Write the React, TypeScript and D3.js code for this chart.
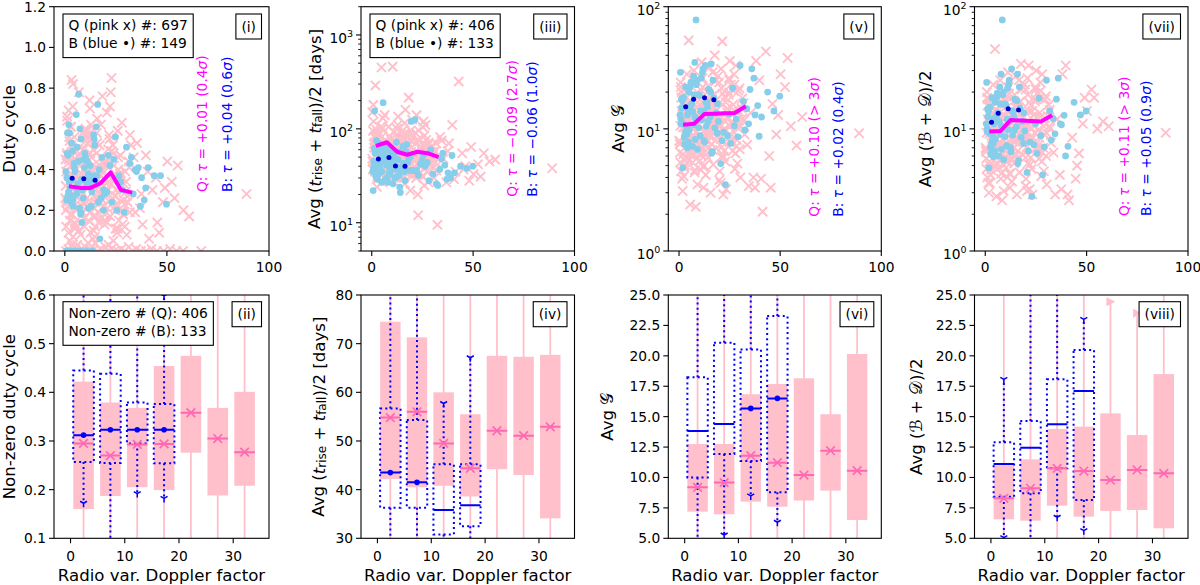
import React from "react";
import * as d3 from "d3";

const FONT = "'DejaVu Sans', sans-serif";
const PINK = "#ffc0cb";
const HOTPINK = "#ff69b4";
const SKYBLUE = "#87ceeb";
const MAGENTA = "#ff00ff";
const BLUE = "#0000ff";
const TICK_FS = 13.8;
const LABEL_FS = 16.6;

// panel geometry
const COL_LEFT = [54, 361, 668.3, 974.5];
const COL_WIDTH = [215, 213.5, 213, 213.5];
const TOP_ROW: [number, number] = [6.7, 251];
const BOTTOM_ROW: [number, number] = [295, 538.3];
const SCATTER_X: [number, number] = [-5.3, 100];
const BOX_X: [number, number] = [-3.05, 36.6];

// ---- per-source data: radio variability Doppler factor ----
const qDoppler = [
  0.4, 1.2, 2.7, 0.9, 3.3, 1.8, 4.6, 2.1, 5.2, 0.6, 3.9, 6.4, 1.5, 7.1, 2.5, 5.8, 8.3, 3.1, 9.4, 4.2,
  6.9, 0.8, 7.7, 2.9, 8.8, 5.5, 1.1, 9.9, 4.8, 6.1, 3.6, 7.4, 2.3, 8.1, 0.3, 5.0, 9.1, 1.9, 6.6, 4.0,
  10.3, 11.6, 12.8, 10.9, 13.5, 14.7, 11.2, 15.3, 12.1, 16.4, 13.0, 17.6, 10.6, 14.1, 18.2, 11.9, 15.8, 19.4, 12.5, 16.9,
  13.8, 17.1, 19.9, 14.4, 10.1, 18.7, 15.1, 12.3, 16.2, 11.4, 19.0, 13.2, 17.9, 14.9, 10.8, 18.4, 16.6, 12.9, 15.6, 19.6,
  20.4, 21.7, 22.9, 20.8, 24.1, 23.3, 25.6, 21.2, 26.8, 22.5, 24.7, 27.9, 20.1, 23.8, 25.1, 28.6, 21.9, 26.2, 29.4, 22.1,
  24.4, 27.2, 30.3, 23.1, 25.9, 28.1, 31.5, 20.6, 26.5, 29.9, 32.4, 21.4, 27.6, 30.8, 33.7, 24.9, 28.9, 31.9, 34.5, 22.7,
  35.4, 36.8, 38.1, 39.7, 41.3, 42.9, 44.6, 46.2, 48.1, 50.2, 52.4, 55.3, 58.1, 60.9, 37.5, 40.6, 45.3, 49.0, 53.7, 89.0,
  0.2, 1.6, 2.4, 3.0, 4.4, 5.6, 6.3, 7.9, 8.6, 9.7, 0.7, 1.3, 2.8, 3.7, 4.9, 5.3, 6.8, 7.2, 8.4, 9.3,
  10.4, 11.1, 12.2, 13.6, 14.3, 15.5, 16.8, 17.3, 18.6, 19.2, 10.9, 11.7, 12.6, 13.3, 14.6, 15.9, 16.1, 17.8, 18.1, 19.8,
  0.5, 2.0, 3.5, 5.1, 6.7, 8.0, 9.5, 11.4, 12.9, 14.0, 15.2, 16.5, 17.7, 19.1, 1.0, 4.1, 7.4, 10.6, 13.9, 18.8,
  20.3, 21.5, 22.3, 23.6, 24.5, 25.3, 26.1, 27.4, 28.3, 29.6, 30.4, 31.3, 20.9, 22.8, 24.0, 25.8, 27.0, 28.8, 30.0, 31.8,
  1.9, 3.9, 6.0, 8.8, 11.0, 13.1, 15.0, 17.0, 19.4, 21.0, 23.0, 25.0, 27.2, 29.2, 4.7, 9.1, 14.8, 20.0, 24.8, 26.7,
];
const bDoppler = [
  1.0, 2.3, 3.1, 0.7, 4.5, 1.8, 5.6, 2.8, 6.3, 3.7,
  7.2, 0.5, 8.0, 4.9, 1.4, 9.1, 5.9, 2.0, 7.8, 3.4,
  6.8, 9.6, 4.1, 8.6, 1.2, 11.4, 13.0, 10.5, 14.6, 12.2,
  16.1, 11.0, 17.7, 13.8, 15.4, 18.9, 10.2, 12.7, 16.8, 14.1,
  19.5, 15.9, 21.3, 23.0, 24.8, 22.1, 26.5, 28.3, 25.5, 30.2,
  31.8, 27.4, 33.5, 36.0, 29.1, 35.1, 37.6, 38.9, 34.4, 39.6,
  43.8, 46.9, 49.8, 32.6, 20.6, 37.0, 40.8, 17.2, 8.4, 7.5,
  0.9, 1.6, 2.6, 3.3, 4.2, 5.0, 5.8, 6.6, 7.4, 8.2,
  9.0, 9.8, 10.7, 11.6, 12.4, 13.3, 14.4, 15.7, 16.4, 18.2,
  2.1, 3.9, 6.0, 7.9, 4.7, 1.3, 11.8, 13.5, 19.0, 24.0,
];

// duty cycle
const qDuty = [
  0.32, 0.64, 0.18, 0.47, 0.84, 0.09, 0.39, 0.56, 0.27, 0.12, 0.71, 0.35, 0.22, 0.51, 0.05, 0.44, 0.29, 0.61, 0.16, 0.37,
  0.78, 0.25, 0.08, 0.42, 0.58, 0.2, 0.66, 0.33, 0.14, 0.49, 0.03, 0.28, 0.54, 0.38, 0.45, 0.11, 0.24, 0.69, 0.31, 0.82,
  0.41, 0.15, 0.62, 0.26, 0.36, 0.07, 0.53, 0.3, 0.74, 0.19, 0.46, 0.34, 0.57, 0.1, 0.4, 0.23, 0.65, 0.13, 0.48, 0.28,
  0.06, 0.52, 0.35, 0.21, 0.6, 0.43, 0.17, 0.7, 0.32, 0.04, 0.27, 0.55, 0.39, 0.12, 0.46, 0.76, 0.24, 0.37, 0.58, 0.18,
  0.33, 0.57, 0.85, 0.14, 0.42, 0.26, 0.09, 0.5, 0.36, 0.78, 0.22, 0.63, 0.44, 0.05, 0.3, 0.18, 0.55, 0.4, 0.12, 0.71,
  0.27, 0.47, 0.08, 0.35, 0.59, 0.2, 0.41, 0.68, 0.15, 0.29, 0.52, 0.03, 0.38, 0.24, 0.46, 0.11, 0.33, 0.57, 0.19, 0.49,
  0.53, 0.21, 0.13, 0.47, 0.06, 0.3, 0.36, 0.09, 0.24, 0.44, 0.34, 0.42, 0.2, 0.17, 0.28, 0.39, 0.14, 0.31, 0.26, 0.28,
  0.26, 0.43, 0.15, 0.52, 0.34, 0.21, 0.47, 0.3, 0.58, 0.12, 0.39, 0.24, 0.61, 0.18, 0.29, 0.45, 0.1, 0.36, 0.22, 0.5,
  0.33, 0.55, 0.19, 0.42, 0.27, 0.48, 0.14, 0.37, 0.25, 0.44, 0.59, 0.31, 0.09, 0.4, 0.21, 0.53, 0.35, 0.16, 0.46, 0.28,
  0.2, 0.37, 0.51, 0.13, 0.3, 0.44, 0.23, 0.57, 0.34, 0.17, 0.41, 0.26, 0.62, 0.32, 0.48, 0.07, 0.25, 0.38, 0.5, 0.22,
  0.29, 0.41, 0.17, 0.52, 0.35, 0.23, 0.46, 0.31, 0.13, 0.39, 0.27, 0.44, 0.21, 0.33, 0.48, 0.11, 0.38, 0.25, 0.34, 0.19,
  0.45, 0.28, 0.36, 0.19, 0.53, 0.32, 0.24, 0.42, 0.15, 0.3, 0.49, 0.27, 0.37, 0.23, 0.56, 0.4, 0.31, 0.43, 0.2, 0.35,
];
const qZeroDoppler = [
  0.6, 1.7, 2.6, 3.4, 4.5, 5.3, 6.1, 7.0, 8.2, 9.0,
  10.1, 11.3, 12.6, 13.5, 14.8, 16.0, 17.4, 18.5, 19.9, 21.3,
  22.8, 24.3, 26.0, 27.7, 29.4, 31.3, 33.1, 35.0, 37.2, 39.8,
  42.5, 45.1, 48.4, 51.6, 54.7, 57.9, 66.8,
];
const qZeroDuty = [
  0.0, 0.01, 0.0, 0.02, 0.0, 0.01, 0.03, 0.0, 0.01, 0.0,
  0.02, 0.0, 0.01, 0.0, 0.04, 0.0, 0.01, 0.0, 0.02, 0.0,
  0.01, 0.0, 0.0, 0.01, 0.0, 0.02, 0.0, 0.01, 0.0, 0.0,
  0.01, 0.0, 0.0, 0.01, 0.0, 0.0, 0.0,
];
const bDuty = [
  0.36, 0.58, 0.24, 0.0, 0.43, 0.29, 0.67, 0.0, 0.33, 0.49,
  0.21, 0.39, 0.55, 0.0, 0.27, 0.45, 0.31, 0.62, 0.18, 0.35,
  0.77, 0.41, 0.25, 0.3, 0.48, 0.38, 0.22, 0.0, 0.52, 0.34,
  0.72, 0.44, 0.26, 0.37, 0.61, 0.2, 0.46, 0.31, 0.4, 0.57,
  0.28, 0.33, 0.47, 0.24, 0.56, 0.42, 0.37, 0.3, 0.2, 0.51,
  0.43, 0.34, 0.28, 0.41, 0.19, 0.39, 0.36, 0.25, 0.4, 0.31,
  0.37, 0.37, 0.23, 0.46, 0.29, 0.22, 0.41, 0.06, 0.14, 0.0,
  0.25, 0.47, 0.31, 0.53, 0.22, 0.39, 0.28, 0.44, 0.6, 0.35,
  0.26, 0.48, 0.33, 0.21, 0.42, 0.29, 0.55, 0.37, 0.24, 0.46,
  0.34, 0.27, 0.51, 0.19, 0.41, 0.58, 0.36, 0.0, 0.3, 0.45,
];

// average (t_rise + t_fall)/2 in days
const qTime = [
  45, 82, 31, 120, 58, 290, 38, 66, 27, 95, 50, 140, 35, 72, 24, 60, 105, 42, 77, 33,
  55, 180, 28, 88, 47, 130, 63, 36, 450, 52, 70, 29, 98, 41, 150, 57, 34, 85, 65, 44,
  460, 39, 110, 54, 75, 30, 92, 48, 62, 26, 135, 43, 68, 37, 215, 56, 81, 32, 100, 49,
  71, 40, 125, 53, 28, 87, 60, 35, 115, 46, 22, 79, 58, 94, 38, 67, 160, 44, 52, 74,
  48, 90, 12, 36, 64, 55, 120, 33, 76, 43, 58, 27, 85, 40, 105, 50, 30, 69, 45, 140,
  62, 35, 53, 96, 25, 71, 44, 38, 110, 57, 9.5, 47, 66, 30, 82, 41, 54, 36, 75, 20,
  48, 27, 70, 110, 35, 320, 55, 40, 28, 33, 42, 55, 45, 47, 58, 29, 37, 64, 31, 38,
  48, 72, 35, 92, 57, 40, 68, 31, 84, 52, 44, 63, 29, 77, 38, 101, 55, 46, 70, 34,
  61, 42, 88, 50, 33, 74, 45, 58, 36, 96, 53, 39, 66, 47, 81, 30, 59, 43, 71, 51,
  37, 64, 49, 83, 41, 56, 32, 75, 45, 62, 38, 90, 52, 44, 69, 35, 57, 48, 79, 40,
  54, 36, 72, 45, 60, 31, 85, 49, 41, 66, 38, 58, 46, 77, 34, 53, 62, 43, 50, 70,
  42, 87, 51, 36, 64, 46, 73, 39, 57, 48, 33, 68, 44, 55, 106, 40, 61, 35, 52, 47,
];
const bTime = [
  45, 75, 33, 22, 58, 38, 190, 29, 52, 41,
  66, 35, 48, 27, 155, 37, 60, 31, 43, 70,
  28, 55, 40, 34, 62, 30, 47, 26, 39, 72,
  35, 50, 44, 24, 65, 36, 42, 31, 57, 21,
  120, 38, 125, 32, 46, 36, 40, 28, 52, 33,
  26, 44, 37, 41, 60, 55, 34, 30, 48, 52,
  40, 38, 40, 25, 36, 29, 34, 68, 46, 30,
  38, 55, 31, 44, 68, 35, 49, 29, 41, 60,
  33, 46, 52, 30, 39, 57, 36, 43, 28, 48,
  62, 34, 45, 27, 51, 40, 37, 32, 50, 42,
];

// average G
const qG = [
  7.5, 14, 4.8, 22, 9.6, 3.1, 11.5, 6.2, 17, 5.3, 28, 8.4, 3.9, 12.8, 19, 6.8, 2.3, 10.2, 15, 5.8,
  8.9, 24, 4.4, 13.4, 7.2, 2.4, 18, 10.8, 53, 6.0, 9.3, 30, 4.1, 11.9, 7.9, 16, 3.5, 21, 8.2, 12.3,
  5.5, 26, 9.8, 4.6, 14.5, 7.0, 35, 11.2, 3.3, 17.5, 8.6, 40, 6.4, 20, 10.0, 4.9, 13.0, 27, 7.6, 5.1,
  15.5, 9.1, 3.8, 22.5, 6.7, 12.0, 32, 5.0, 18.5, 8.0, 11.0, 4.2, 24.5, 9.9, 6.1, 14.2, 29, 7.3, 3.0, 10.5,
  8.3, 19.5, 5.4, 31, 12.5, 3.2, 23, 7.1, 15.8, 9.4, 26, 6.3, 4.5, 13.6, 36, 8.1, 2.9, 11.4, 20.5, 5.9,
  10.8, 28, 4.0, 16.5, 7.8, 33, 12.2, 3.6, 6.6, 21.5, 9.0, 52, 4.7, 14.8, 7.4, 25, 5.2, 11.7, 3.4, 18,
  13.5, 4.0, 36, 25, 2.1, 43, 6.0, 16, 9.0, 28, 22, 10.5, 7.3, 12.5, 3.3, 3.9, 3.3, 13, 38, 9.2,
  8.0, 13.0, 5.6, 17.5, 9.8, 6.5, 12.2, 4.6, 15.0, 7.4, 10.6, 20.0, 5.0, 11.3, 7.0, 14.0, 8.7, 6.0, 9.4, 18.0,
  12.7, 7.7, 16.0, 9.0, 5.8, 13.8, 10.1, 19.0, 6.9, 11.6, 8.4, 22.0, 14.8, 6.2, 10.9, 17.0, 7.5, 12.9, 9.7, 24.0,
  6.4, 10.3, 15.5, 8.2, 5.3, 11.8, 19.5, 7.1, 13.6, 9.2, 16.8, 6.7, 12.0, 8.9, 4.5, 14.5, 10.0, 21.0, 7.9, 11.1,
  9.5, 15.8, 6.6, 12.4, 19.0, 8.6, 11.0, 23.0, 7.2, 13.9, 10.4, 17.8, 5.9, 9.9, 14.7, 8.1, 20.5, 11.9, 6.8, 16.2,
  13.3, 7.3, 10.7, 18.5, 6.1, 12.6, 9.1, 15.3, 8.5, 21.5, 11.5, 7.8, 14.2, 10.2, 5.5, 16.5, 8.8, 12.1, 19.8, 9.6,
];
const bG = [
  12, 18, 9.0, 29, 14.5, 4.8, 22, 7.5, 16, 10.5,
  27, 13, 8.2, 20, 15, 6.8, 24, 11, 35, 9.5,
  13.8, 19, 7.0, 23, 17.5, 11.8, 33, 8.8, 21, 14,
  6.3, 26, 10.2, 16.5, 12.5, 9.2, 18.8, 7.8, 25, 15.2,
  11.5, 34, 8.0, 3.5, 13.2, 9.4, 21.5, 12.0, 7.6, 33,
  16.8, 10.6, 14.6, 31, 8.6, 21, 13, 15.5, 11, 8.7,
  20, 14, 18.5, 9.8, 5.2, 26, 12.5, 17.8, 78, 10.8,
  11, 17, 8.5, 22, 13, 9.8, 15.5, 7.2, 19, 12,
  25, 10.2, 14, 29, 8.0, 16.5, 11.5, 20, 6.5, 13.5,
  18, 9.0, 24, 12.5, 7.8, 14.8, 31, 10.5, 16, 8.8,
];

// average (B + D)/2
const qBD = [
  6.5, 12, 4.2, 18, 8.3, 3.0, 10.5, 5.4, 14.5, 4.7, 23, 7.2, 3.6, 11, 16, 5.9, 2.6, 8.8, 13, 5.0,
  7.7, 20, 3.9, 11.5, 6.2, 2.8, 15.5, 9.3, 45, 5.2, 8.0, 25, 3.6, 10.2, 6.8, 13.8, 3.1, 17.5, 7.0, 10.6,
  4.8, 22, 8.4, 4.0, 12.5, 6.0, 29, 9.6, 3.3, 15, 7.4, 34, 5.5, 17, 8.6, 4.3, 11.2, 23, 6.5, 4.4,
  13.3, 7.8, 3.4, 19, 5.8, 10.3, 27, 4.3, 16, 6.9, 9.5, 3.7, 21, 8.5, 5.3, 12.2, 25, 6.3, 2.9, 9.0,
  7.1, 16.5, 4.7, 26, 10.7, 2.9, 19.5, 6.1, 13.5, 8.1, 22, 5.4, 3.9, 11.7, 30, 7.0, 3.2, 9.8, 17.5, 5.1,
  9.3, 24, 3.5, 14, 6.7, 28, 10.5, 3.1, 5.7, 18.5, 7.7, 33, 4.1, 12.7, 6.4, 21, 4.5, 10.1, 2.9, 15.5,
  12, 4.2, 28, 33, 2.6, 8.5, 3.9, 6.3, 11, 14, 21, 10, 11.5, 10.5, 3.2, 2.9, 5.0, 18, 18, 9.3,
  7.0, 11.5, 5.0, 15.0, 8.5, 5.9, 10.6, 4.3, 13.0, 6.6, 9.3, 17.5, 4.6, 9.9, 6.3, 12.3, 7.7, 5.4, 8.3, 15.8,
  11.2, 6.9, 14.0, 8.0, 5.2, 12.1, 8.9, 16.8, 6.1, 10.2, 7.4, 19.5, 13.0, 5.6, 9.6, 15.0, 6.6, 11.3, 8.6, 21.0,
  5.7, 9.1, 13.6, 7.2, 4.8, 10.4, 17.0, 6.3, 12.0, 8.1, 14.8, 5.9, 10.6, 7.9, 4.0, 12.8, 8.8, 18.5, 7.0, 9.8,
  8.4, 13.9, 5.8, 10.9, 16.8, 7.6, 9.7, 20.5, 6.4, 12.2, 9.2, 15.7, 5.2, 8.7, 13.0, 7.2, 18.0, 10.5, 6.0, 14.3,
  11.7, 6.4, 9.4, 16.3, 5.4, 11.1, 8.0, 13.5, 7.5, 19.0, 10.1, 6.9, 12.5, 9.0, 4.9, 14.6, 7.8, 10.7, 17.5, 8.5,
];
const bBD = [
  10, 15, 7.5, 24, 12.2, 4.8, 18, 6.2, 13.5, 8.8,
  22, 11, 6.8, 16.5, 12.5, 5.6, 19.5, 9.2, 28, 7.9,
  11.5, 16, 5.9, 19, 14.5, 9.8, 31, 7.3, 17.5, 11.7,
  5.2, 21.5, 8.5, 13.8, 10.4, 7.6, 15.6, 6.5, 22, 12.6,
  9.6, 28, 6.6, 2.8, 11, 7.8, 17.8, 4.2, 6.3, 25,
  14, 8.8, 12.1, 26, 7.1, 17.5, 10.8, 12.9, 9.1, 6.0,
  16.5, 13, 14, 8.1, 4.4, 11, 7.2, 14.8, 78, 9.0,
  9.5, 14, 7.0, 18, 11, 8.2, 13, 6.0, 16, 10,
  20, 8.6, 12, 23, 7.0, 14, 9.8, 17, 5.5, 11.5,
  15, 7.6, 19.5, 10.6, 6.6, 12.6, 25, 8.9, 13.5, 7.4,
];

// running medians of the Q sample and binned B means
const trendDoppler = [2, 7.5, 12.5, 17.5, 22.5, 27.5, 33];
const qDutyTrend = [0.318, 0.31, 0.31, 0.333, 0.386, 0.3, 0.287];
const qTimeTrend = [66, 72, 57, 53, 57, 55, 50];
const qGTrend = [10.8, 11, 13.2, 13.3, 13.4, 13.5, 15.3];
const qBDTrend = [9.5, 9.6, 11.8, 11.7, 11.6, 11.5, 12.9];

const bDutyMeanX = [3.6, 9.3, 14.8];
const bDutyMean = [0.357, 0.355, 0.347];
const bTimeMeanX = [3.3, 8.5, 11.7, 16.4];
const bTimeMean = [47.6, 49.5, 40.3, 40];
const bGMeanX = [3.3, 7.2, 12.6, 17.2];
const bGMean = [15.2, 17.5, 18, 17.3];
const bBDMeanX = [3.1, 6.4, 11.3, 16.4];
const bBDMean = [11.3, 13.4, 14.6, 14.3];

// ---- binned box statistics ----
const binPositions = [2.4, 7.35, 12.3, 17.25, 22.2, 27.15, 32.1];

const dutyPinkQ1 = [0.16, 0.187, 0.205, 0.199, 0.276, 0.188, 0.208];
const dutyPinkMed = [0.295, 0.27, 0.293, 0.294, 0.358, 0.305, 0.277];
const dutyPinkQ3 = [0.422, 0.379, 0.368, 0.454, 0.475, 0.368, 0.401];
const dutyPinkLo = [0.03, 0.04, 0.05, 0.03, 0.06, 0.04, 0.07];
const dutyPinkHi = [0.84, 0.75, 0.72, 0.85, 0.8, 0.66, 0.62];
const dutyBlueQ1 = [0.257, 0.255, 0.295, 0.254];
const dutyBlueMed = [0.312, 0.323, 0.323, 0.323];
const dutyBlueQ3 = [0.445, 0.438, 0.379, 0.376];
const dutyBlueLo = [0.172, 0.05, 0.192, 0.182];
const dutyBlueHi = [0.72, 0.77, 0.66, 0.598];
const dutyBlueMean = [0.312, 0.323, 0.323, 0.323];

const timePinkQ1 = [42.2, 40.5, 40.8, 38.6, 44.2, 43.0, 34.1];
const timePinkMed = [54.8, 56.0, 49.5, 44.4, 52.1, 51.1, 52.9];
const timePinkQ3 = [74.5, 71.3, 60.0, 55.5, 67.5, 67.3, 67.7];
const timePinkLo = [22, 21, 24, 20, 25, 23, 18];
const timePinkHi = [125, 118, 95, 88, 105, 110, 120];
const timeBlueQ1 = [36.3, 36.3, 30.8, 32.5];
const timeBlueMed = [43.5, 41.5, 35.8, 36.8];
const timeBlueQ3 = [56.7, 54.3, 45.2, 45.2];
const timeBlueLo = [24, 22, 25, 23];
const timeBlueHi = [105, 98, 57.7, 67.1];
const timeBlueMean = [43.5, 41.5, null, null];

const gPinkQ1 = [7.19, 6.97, 8.01, 7.6, 8.1, 8.92, 6.5];
const gPinkMed = [9.19, 9.58, 11.79, 11.22, 10.2, 12.2, 10.56];
const gPinkQ3 = [12.75, 12.75, 16.84, 17.68, 18.15, 15.2, 20.15];
const gPinkLo = [3, 3, 3.5, 3.2, 3.8, 4.5, 3.0];
const gPinkHi = [30, 31, 35, 33, 32, 28, 40];
const gBlueQ1 = [10.0, 11.93, 11.36, 8.78];
const gBlueMed = [13.82, 14.4, 15.68, 16.5];
const gBlueQ3 = [18.23, 21.08, 20.53, 23.27];
const gBlueLo = [4.0, 5.27, 8.48, 6.32];
const gBlueHi = [30, 34, 33, 36];
const gBlueMean = [null, null, 15.68, 16.5];

const bdPinkQ1 = [6.56, 6.45, 7.68, 6.78, 7.25, 7.33, 5.82];
const bdPinkMed = [8.29, 9.11, 10.75, 10.53, 9.79, 10.62, 10.34];
const bdPinkQ3 = [11.0, 11.49, 13.99, 14.18, 15.27, 13.49, 18.5];
const bdPinkLo = [3.0, 2.8, 3.5, 3.0, 3.6, 3.7, 2.5];
const bdPinkHi = [28, 27, 30, 29, 24.45, 23.5, 36];
const bdBlueQ1 = [8.42, 8.7, 10.75, 8.15];
const bdBlueMed = [11.11, 12.45, 14.37, 17.1];
const bdBlueQ3 = [12.89, 14.64, 18.07, 20.48];
const bdBlueLo = [5.05, 4.0, 6.73, 5.63];
const bdBlueHi = [18.07, 30, 32, 23.0];
const bdBlueMean = [null, null, null, null];

// ---- helpers ----
const measureCtx =
  typeof document !== "undefined"
    ? document.createElement("canvas").getContext("2d")
    : null;

function textWidth(s: string, size: number) {
  if (!measureCtx) return s.length * size * 0.6;
  measureCtx.font = `${size}px "DejaVu Sans"`;
  return measureCtx.measureText(s).width;
}

function mathText(s: string) {
  return s.split(/([τσ])/).map((t, i) =>
    t === "τ" || t === "σ" ? (
      <tspan key={i} fontStyle="italic">
        {t}
      </tspan>
    ) : (
      <React.Fragment key={i}>{t}</React.Fragment>
    )
  );
}

const isPow10 = (v: number) => Math.abs(Math.log10(v) - Math.round(Math.log10(v))) < 1e-9;

function logLabel(v: number) {
  return (
    <>
      10
      <tspan dy={-5} fontSize={9.5}>
        {Math.round(Math.log10(v))}
      </tspan>
    </>
  );
}

const timeLabel = (
  <>
    Avg (<tspan fontStyle="italic">t</tspan>
    <tspan dy={3.5} fontSize={12}>
      rise
    </tspan>
    <tspan dy={-3.5}> + </tspan>
    <tspan fontStyle="italic">t</tspan>
    <tspan dy={3.5} fontSize={12}>
      fall
    </tspan>
    <tspan dy={-3.5}>)/2 [days]</tspan>
  </>
);
const gLabel = <>Avg 𝒢</>;
const bdLabel = <>Avg (ℬ + 𝒟)/2</>;

function TagBox({ right, top, text }: { right: number; top: number; text: string }) {
  const w = textWidth(text, TICK_FS) + 11;
  return (
    <g>
      <rect x={right - w} y={top} width={w} height={25} fill="white" stroke="black" strokeWidth={1.1} />
      <text x={right - w / 2} y={top + 12.5} textAnchor="middle" dominantBaseline="central" fontSize={TICK_FS}>
        {text}
      </text>
    </g>
  );
}

function LegendBox({ left, top, lines }: { left: number; top: number; lines: string[] }) {
  const w = d3.max(lines, (l) => textWidth(l, TICK_FS))! + 11;
  return (
    <g>
      <rect x={left} y={top} width={w} height={lines.length * 18.3 + 7} fill="white" stroke="black" strokeWidth={1.1} />
      {lines.map((l, i) => (
        <text key={i} x={left + 5.5} y={top + 11 + i * 18.3} dominantBaseline="central" fontSize={TICK_FS}>
          {l}
        </text>
      ))}
    </g>
  );
}

function YLabel({ x, y, children }: { x: number; y: number; children: React.ReactNode }) {
  return (
    <text transform={`translate(${x},${y}) rotate(-90)`} textAnchor="middle" dominantBaseline="central" fontSize={LABEL_FS}>
      {children}
    </text>
  );
}

type ScatterProps = {
  id: string;
  col: number;
  log: boolean;
  yDomain: [number, number];
  yTicks: number[];
  qx: number[];
  qy: number[];
  bx: number[];
  by: number[];
  trend: number[];
  meanX: number[];
  meanY: number[];
  legend?: string[];
  tag: string;
  tauQ: string;
  tauB: string;
  tauCols: [number, number];
  tauBottom: number;
  yLabel: React.ReactNode;
  yLabelX: number;
};

function ScatterPanel(p: ScatterProps) {
  const left = COL_LEFT[p.col];
  const right = left + COL_WIDTH[p.col];
  const [top, bottom] = TOP_ROW;
  const x = d3.scaleLinear().domain(SCATTER_X).range([left, right]);
  const y = p.log
    ? d3.scaleLog().domain(p.yDomain).range([bottom, top])
    : d3.scaleLinear().domain(p.yDomain).range([bottom, top]);
  const minor = p.log ? (y as d3.ScaleLogarithmic<number, number>).ticks().filter((v) => !isPow10(v)) : [];
  const line = d3
    .line<number>()
    .x((_, i) => x(trendDoppler[i]))
    .y((d) => y(d));
  const clip = `clip-${p.id}`;
  const s = 4.6;
  return (
    <g>
      <clipPath id={clip}>
        <rect x={left} y={top} width={right - left} height={bottom - top} />
      </clipPath>
      <g clipPath={`url(#${clip})`}>
        {p.qx.map((d, i) => {
          const cx = x(d);
          const cy = y(p.qy[i]);
          return (
            <path
              key={i}
              d={`M${cx - s},${cy - s}L${cx + s},${cy + s}M${cx - s},${cy + s}L${cx + s},${cy - s}`}
              stroke={PINK}
              strokeWidth={1.9}
            />
          );
        })}
        {p.bx.map((d, i) => (
          <circle key={i} cx={x(d)} cy={y(p.by[i])} r={3.4} fill={SKYBLUE} />
        ))}
        <path d={line(p.trend)!} fill="none" stroke={MAGENTA} strokeWidth={4} strokeLinejoin="round" />
        {p.meanX.map((d, i) => (
          <circle key={i} cx={x(d)} cy={y(p.meanY[i])} r={2.5} fill="#0000d0" />
        ))}
      </g>
      {p.legend && <LegendBox left={left + 9} top={top + 7.3} lines={p.legend} />}
      <TagBox right={right - 7.5} top={top + 7.3} text={p.tag} />
      <text
        transform={`translate(${left + p.tauCols[0]},${p.tauBottom}) rotate(-90)`}
        dominantBaseline="central"
        fontSize={TICK_FS}
        fill={MAGENTA}
      >
        {mathText(p.tauQ)}
      </text>
      <text
        transform={`translate(${left + p.tauCols[1]},${p.tauBottom}) rotate(-90)`}
        dominantBaseline="central"
        fontSize={TICK_FS}
        fill={BLUE}
      >
        {mathText(p.tauB)}
      </text>
      <rect x={left} y={top} width={right - left} height={bottom - top} fill="none" stroke="black" strokeWidth={1.1} />
      {[0, 50, 100].map((t) => (
        <g key={t}>
          <line x1={x(t)} x2={x(t)} y1={bottom} y2={bottom + 5} stroke="black" strokeWidth={1.1} />
          <text x={x(t)} y={bottom + 15.5} textAnchor="middle" dominantBaseline="central" fontSize={TICK_FS}>
            {t}
          </text>
        </g>
      ))}
      {minor.map((t) => (
        <line key={t} x1={left - 2.8} x2={left} y1={y(t)} y2={y(t)} stroke="black" strokeWidth={0.9} />
      ))}
      {p.yTicks.map((t) => (
        <g key={t}>
          <line x1={left - 5} x2={left} y1={y(t)} y2={y(t)} stroke="black" strokeWidth={1.1} />
          <text x={left - 8} y={y(t) + (p.log ? 3 : 0)} textAnchor="end" dominantBaseline="central" fontSize={TICK_FS}>
            {p.log ? logLabel(t) : t.toFixed(1)}
          </text>
        </g>
      ))}
      <YLabel x={p.yLabelX} y={(top + bottom) / 2}>
        {p.yLabel}
      </YLabel>
    </g>
  );
}

type BoxProps = {
  id: string;
  col: number;
  yDomain: [number, number];
  yTicks: number[];
  yFmt: (v: number) => string;
  pink: { q1: number[]; med: number[]; q3: number[]; lo: number[]; hi: number[] };
  blue: { q1: number[]; med: number[]; q3: number[]; lo: number[]; hi: number[]; mean: (number | null)[] };
  legend?: string[];
  tag: string;
  yLabel: React.ReactNode;
  yLabelX: number;
};

const BOX_W = 3.8;

function triDown(cx: number, cy: number, r: number) {
  return `M${cx},${cy}L${cx},${cy + r}M${cx},${cy}L${cx - 0.87 * r},${cy - 0.5 * r}M${cx},${cy}L${cx + 0.87 * r},${cy - 0.5 * r}`;
}

function BoxPanel(p: BoxProps) {
  const left = COL_LEFT[p.col];
  const right = left + COL_WIDTH[p.col];
  const [top, bottom] = BOTTOM_ROW;
  const x = d3.scaleLinear().domain(BOX_X).range([left, right]);
  const y = d3.scaleLinear().domain(p.yDomain).range([bottom, top]);
  const half = (x(BOX_W) - x(0)) / 2;
  const clip = `clip-${p.id}`;
  const dots = "2 3.2";
  return (
    <g>
      <clipPath id={clip}>
        <rect x={left} y={top} width={right - left} height={bottom - top} />
      </clipPath>
      <g clipPath={`url(#${clip})`}>
        {binPositions.map((c, i) => {
          const cx = x(c);
          return (
            <g key={i}>
              <line x1={cx} x2={cx} y1={y(p.pink.lo[i])} y2={y(p.pink.hi[i])} stroke={PINK} strokeWidth={1.8} />
              {[p.pink.lo[i], p.pink.hi[i]].map((v, k) => (
                <path key={k} d={`M${cx - 4},${y(v) - 4.5}L${cx + 5},${y(v)}L${cx - 4},${y(v) + 4.5}Z`} fill={PINK} />
              ))}
              <rect x={cx - half} y={y(p.pink.q3[i])} width={2 * half} height={y(p.pink.q1[i]) - y(p.pink.q3[i])} fill={PINK} />
            </g>
          );
        })}
        {p.blue.q1.map((q1, i) => {
          const cx = x(binPositions[i]);
          return (
            <g key={i}>
              <line x1={cx} x2={cx} y1={y(p.blue.q3[i])} y2={y(p.blue.hi[i])} stroke={BLUE} strokeWidth={2} strokeDasharray={dots} />
              <line x1={cx} x2={cx} y1={y(q1)} y2={y(p.blue.lo[i])} stroke={BLUE} strokeWidth={2} strokeDasharray={dots} />
              <path d={triDown(cx, y(p.blue.lo[i]), 4)} stroke={BLUE} strokeWidth={1.5} fill="none" />
              <path d={triDown(cx, y(p.blue.hi[i]), 4)} stroke={BLUE} strokeWidth={1.5} fill="none" />
              <rect
                x={cx - half}
                y={y(p.blue.q3[i])}
                width={2 * half}
                height={y(q1) - y(p.blue.q3[i])}
                fill="none"
                stroke={BLUE}
                strokeWidth={2}
                strokeDasharray={dots}
              />
            </g>
          );
        })}
        {binPositions.map((c, i) => {
          const cx = x(c);
          const my = y(p.pink.med[i]);
          return (
            <g key={i}>
              <line x1={cx - half} x2={cx + half} y1={my} y2={my} stroke={HOTPINK} strokeWidth={2} />
              <path d={`M${cx - 4.3},${my - 4.3}L${cx + 4.3},${my + 4.3}M${cx - 4.3},${my + 4.3}L${cx + 4.3},${my - 4.3}`} stroke={HOTPINK} strokeWidth={1.7} />
            </g>
          );
        })}
        {p.blue.med.map((m, i) => {
          const cx = x(binPositions[i]);
          const mean = p.blue.mean[i];
          return (
            <g key={i}>
              <line x1={cx - half} x2={cx + half} y1={y(m)} y2={y(m)} stroke={BLUE} strokeWidth={2} />
              {mean !== null && <circle cx={cx} cy={y(mean)} r={2.8} fill={BLUE} />}
            </g>
          );
        })}
      </g>
      {p.legend && <LegendBox left={left + 9} top={top + 6.7} lines={p.legend} />}
      <TagBox right={right - 7.5} top={top + 6.7} text={p.tag} />
      <rect x={left} y={top} width={right - left} height={bottom - top} fill="none" stroke="black" strokeWidth={1.1} />
      {[0, 10, 20, 30].map((t) => (
        <g key={t}>
          <line x1={x(t)} x2={x(t)} y1={bottom} y2={bottom + 5} stroke="black" strokeWidth={1.1} />
          <text x={x(t)} y={bottom + 17.5} textAnchor="middle" dominantBaseline="central" fontSize={TICK_FS}>
            {t}
          </text>
        </g>
      ))}
      {p.yTicks.map((t) => (
        <g key={t}>
          <line x1={left - 5} x2={left} y1={y(t)} y2={y(t)} stroke="black" strokeWidth={1.1} />
          <text x={left - 8} y={y(t)} textAnchor="end" dominantBaseline="central" fontSize={TICK_FS}>
            {p.yFmt(t)}
          </text>
        </g>
      ))}
      <YLabel x={p.yLabelX} y={(top + bottom) / 2}>
        {p.yLabel}
      </YLabel>
      <text x={(left + right) / 2} y={575} textAnchor="middle" dominantBaseline="central" fontSize={LABEL_FS}>
        Radio var. Doppler factor
      </text>
    </g>
  );
}

export default function App() {
  const dutyQx = [...qDoppler, ...qZeroDoppler];
  const dutyQy = [...qDuty, ...qZeroDuty];
  return (
    <svg width={1200} height={585} style={{ position: "absolute", left: 0, top: 0, fontFamily: FONT }}>
      <rect width={1200} height={585} fill="white" />
      <ScatterPanel
        id="i"
        col={0}
        log={false}
        yDomain={[0, 1.2]}
        yTicks={[0, 0.2, 0.4, 0.6, 0.8, 1.0, 1.2]}
        qx={dutyQx}
        qy={dutyQy}
        bx={bDoppler}
        by={bDuty}
        trend={qDutyTrend}
        meanX={bDutyMeanX}
        meanY={bDutyMean}
        legend={["Q (pink x) #: 697", "B (blue •) #: 149"]}
        tag="(i)"
        tauQ="Q: τ = +0.01 (0.4σ)"
        tauB="B: τ = +0.04 (0.6σ)"
        tauCols={[148, 173]}
        tauBottom={192}
        yLabel="Duty cycle"
        yLabelX={9}
      />
      <ScatterPanel
        id="iii"
        col={1}
        log={true}
        yDomain={[5, 2000]}
        yTicks={[10, 100, 1000]}
        qx={qDoppler}
        qy={qTime}
        bx={bDoppler}
        by={bTime}
        trend={qTimeTrend}
        meanX={bTimeMeanX}
        meanY={bTimeMean}
        legend={["Q (pink x) #: 406", "B (blue •) #: 133"]}
        tag="(iii)"
        tauQ="Q: τ = −0.09 (2.7σ)"
        tauB="B: τ = −0.06 (1.0σ)"
        tauCols={[150.7, 171.3]}
        tauBottom={196.7}
        yLabel={timeLabel}
        yLabelX={314.5}
      />
      <ScatterPanel
        id="v"
        col={2}
        log={true}
        yDomain={[1, 100]}
        yTicks={[1, 10, 100]}
        qx={qDoppler}
        qy={qG}
        bx={bDoppler}
        by={bG}
        trend={qGTrend}
        meanX={bGMeanX}
        meanY={bGMean}
        tag="(v)"
        tauQ="Q: τ = +0.10 (> 3σ)"
        tauB="B: τ = +0.02 (0.4σ)"
        tauCols={[145.7, 170]}
        tauBottom={216.7}
        yLabel={gLabel}
        yLabelX={618.5}
      />
      <ScatterPanel
        id="vii"
        col={3}
        log={true}
        yDomain={[1, 100]}
        yTicks={[1, 10, 100]}
        qx={qDoppler}
        qy={qBD}
        bx={bDoppler}
        by={bBD}
        trend={qBDTrend}
        meanX={bBDMeanX}
        meanY={bBDMean}
        tag="(vii)"
        tauQ="Q: τ = +0.11 (> 3σ)"
        tauB="B: τ = +0.05 (0.9σ)"
        tauCols={[149, 171.7]}
        tauBottom={216}
        yLabel={bdLabel}
        yLabelX={925}
      />
      <BoxPanel
        id="ii"
        col={0}
        yDomain={[0.1, 0.6]}
        yTicks={[0.1, 0.2, 0.3, 0.4, 0.5, 0.6]}
        yFmt={(v) => v.toFixed(1)}
        pink={{ q1: dutyPinkQ1, med: dutyPinkMed, q3: dutyPinkQ3, lo: dutyPinkLo, hi: dutyPinkHi }}
        blue={{ q1: dutyBlueQ1, med: dutyBlueMed, q3: dutyBlueQ3, lo: dutyBlueLo, hi: dutyBlueHi, mean: dutyBlueMean }}
        legend={["Non-zero # (Q): 406", "Non-zero # (B): 133"]}
        tag="(ii)"
        yLabel="Non-zero duty cycle"
        yLabelX={9}
      />
      <BoxPanel
        id="iv"
        col={1}
        yDomain={[30, 80]}
        yTicks={[30, 40, 50, 60, 70, 80]}
        yFmt={(v) => String(v)}
        pink={{ q1: timePinkQ1, med: timePinkMed, q3: timePinkQ3, lo: timePinkLo, hi: timePinkHi }}
        blue={{ q1: timeBlueQ1, med: timeBlueMed, q3: timeBlueQ3, lo: timeBlueLo, hi: timeBlueHi, mean: timeBlueMean }}
        tag="(iv)"
        yLabel={timeLabel}
        yLabelX={318.5}
      />
      <BoxPanel
        id="vi"
        col={2}
        yDomain={[5, 25]}
        yTicks={[5, 7.5, 10, 12.5, 15, 17.5, 20, 22.5, 25]}
        yFmt={(v) => v.toFixed(1)}
        pink={{ q1: gPinkQ1, med: gPinkMed, q3: gPinkQ3, lo: gPinkLo, hi: gPinkHi }}
        blue={{ q1: gBlueQ1, med: gBlueMed, q3: gBlueQ3, lo: gBlueLo, hi: gBlueHi, mean: gBlueMean }}
        tag="(vi)"
        yLabel={gLabel}
        yLabelX={607.5}
      />
      <BoxPanel
        id="viii"
        col={3}
        yDomain={[5, 25]}
        yTicks={[5, 7.5, 10, 12.5, 15, 17.5, 20, 22.5, 25]}
        yFmt={(v) => v.toFixed(1)}
        pink={{ q1: bdPinkQ1, med: bdPinkMed, q3: bdPinkQ3, lo: bdPinkLo, hi: bdPinkHi }}
        blue={{ q1: bdBlueQ1, med: bdBlueMed, q3: bdBlueQ3, lo: bdBlueLo, hi: bdBlueHi, mean: bdBlueMean }}
        tag="(viii)"
        yLabel={bdLabel}
        yLabelX={916.5}
      />
    </svg>
  );
}
